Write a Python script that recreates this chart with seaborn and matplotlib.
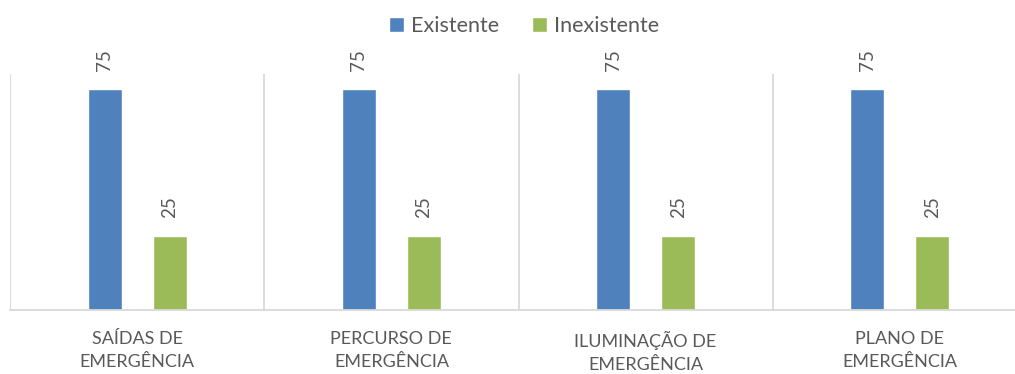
import pandas as pd
import matplotlib.pyplot as plt
import seaborn as sns

# Data
categories = ['SAÍDAS DE\nEMERGÊNCIA', 'PERCURSO DE\nEMERGÊNCIA',
              'ILUMINAÇÃO DE\nEMERGÊNCIA', 'PLANO DE\nEMERGÊNCIA']
existente = [75, 75, 75, 75]
inexistente = [25, 25, 25, 25]
series = ['Existente', 'Inexistente']
colors = ['#4F81BD', '#9BBB59']

df = pd.DataFrame({
    'categoria': categories * 2,
    'valor': existente + inexistente,
    'serie': [series[0]] * len(categories) + [series[1]] * len(categories),
})

sns.set_style('white')
plt.rcParams['font.family'] = ['Lato', 'DejaVu Sans']
gray = '#595959'

fig = plt.figure(figsize=(10.15, 3.74), dpi=100)
ax = fig.add_axes([10 / 1015, 64 / 374, 1017 / 1015, 236 / 374])

sns.barplot(data=df, x='categoria', y='valor', hue='serie', palette=colors,
            width=0.512, gap=0.477, saturation=1, ax=ax, legend=True)

ax.set_xlim(-0.5, len(categories) - 0.5)
ax.set_ylim(0, 80)
ax.set_xlabel('')
ax.set_ylabel('')
ax.set_yticks([])

# category separators
for x in [i - 0.5 for i in range(len(categories) + 1)]:
    ax.axvline(x, color='#D9D9D9', lw=1.3, zorder=0)

for s in ['top', 'right', 'left']:
    ax.spines[s].set_visible(False)
ax.spines['bottom'].set_color('#D9D9D9')
ax.spines['bottom'].set_linewidth(1.3)

ax.tick_params(axis='x', length=0, pad=15, labelsize=13, colors=gray)
for lab in ax.get_xticklabels():
    lab.set_linespacing(1.55)

for cont in ax.containers:
    ax.bar_label(cont, rotation=90, padding=13, fontsize=13.5, color=gray)

ax.get_legend().remove()
handles, labels = ax.get_legend_handles_labels()
fig.legend(handles, labels, loc='upper center', bbox_to_anchor=(524 / 1015, 1.01),
           ncol=2, frameon=False, fontsize=15.5, labelcolor=gray,
           handlelength=0.7, handleheight=0.7, handletextpad=0.35,
           columnspacing=1.5)

fig.savefig('out.png', dpi=100)
